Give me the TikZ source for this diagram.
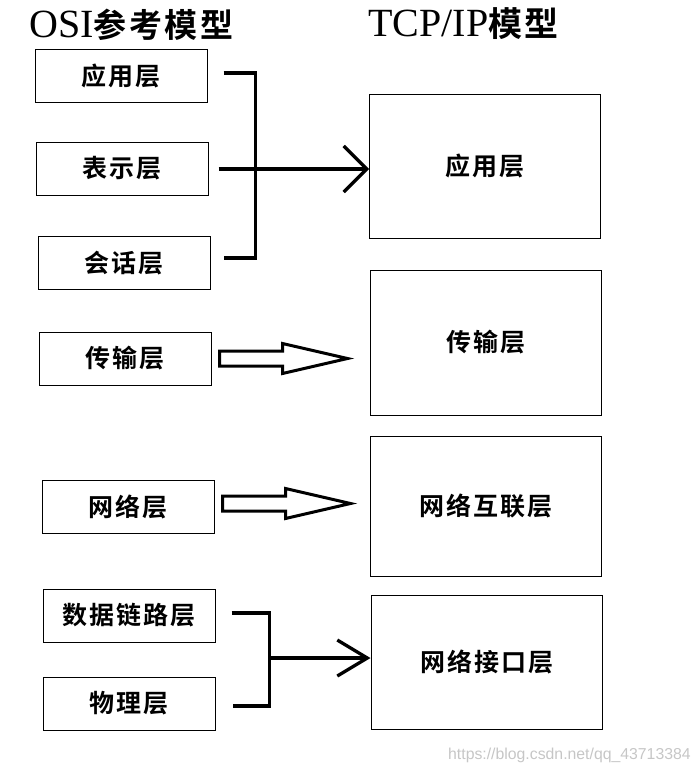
\documentclass[tikz,border=0pt]{standalone}
\usepackage{fontspec}
\setmainfont{Liberation Serif}
\newfontfamily\cjk{Noto Sans CJK SC}[BoldFont={Noto Sans CJK SC Bold}, LetterSpace=8]
\newfontfamily\wmfont{Liberation Sans}
\usetikzlibrary{positioning, calc, arrows.meta}
\tikzset{
    osibox/.style={draw, line width=1pt, minimum width=172pt, minimum height=53pt, inner sep=0pt,
        font=\cjk\bfseries\fontsize{25}{25}\selectfont}, % OSI layers
    tcpbox/.style={draw, line width=1pt, minimum width=231pt, inner sep=0pt,
        font=\cjk\bfseries\fontsize{25}{25}\selectfont}, % TCP/IP layers
    bracket/.style={line width=3.3pt}, % hand drawn brackets
    fat/.style={line width=3pt, line join=miter}, % hollow arrows
    title/.style={anchor=base west, inner sep=0pt},
}
% hollow arrow, #1 = tail point
\newcommand{\fatarrow}[1]{%
    \draw[fat] (#1) ++(0,-7.5) -- ++(63,0) -- ++(0,-7.5) -- ++(65,15)
        -- ++(-65,15) -- ++(0,-7.5) -- ++(-63,0) -- cycle;}

\begin{document}
\begin{tikzpicture}[x=1pt, y=-1pt]
    \useasboundingbox (0,0) rectangle (694,771);

    \node[title] (osititle) at (29,37) {\fontsize{40}{40}\selectfont OSI{\cjk\bfseries\fontsize{33}{33}\selectfont 参考模型}};
    \node[title] (tcptitle) at (368,36) {\fontsize{40}{40}\selectfont TCP/IP{\cjk\bfseries\fontsize{34}{34}\selectfont 模型}};

    % OSI side
    \node[osibox] (osiapp) at (121,75.5) {应用层};
    \node[osibox] (osipre) at (122,168.5) {表示层};
    \node[osibox] (osises) at (124,263) {会话层};
    \node[osibox] (ositra) at (125,358.5) {传输层};
    \node[osibox] (osinet) at (128,506.5) {网络层};
    \node[osibox] (osidl) at (129,615.5) {数据链路层};
    \node[osibox] (osiphy) at (129,703.5) {物理层};

    % TCP/IP side
    \node[tcpbox, minimum height=144pt] (tcpapp) at (485,166) {应用层};
    \node[tcpbox, minimum height=145pt] (tcptra) at (485.5,342.5) {传输层};
    \node[tcpbox, minimum height=140pt] (tcpnet) at (485.5,506) {网络互联层};
    \node[tcpbox, minimum height=134pt] (tcpif) at (486.5,662) {网络接口层};

    % upper bracket
    \coordinate (b1top) at ($(osiapp.east)+(16,-2.5)$);
    \coordinate (b1bot) at ($(osises.east)+(13,-5)$);
    \coordinate (b1in) at ($(osipre.east)+(10,0.5)$);
    \draw[bracket] (b1top) -- ++(32,0) |- (b1bot);
    \draw[bracket, -{Straight Barb[length=23pt, width=46pt]}] (b1in) -- (b1in -| tcpapp.west);

    \fatarrow{$(ositra.east)+(8,0)$}
    \fatarrow{$(osinet.east)+(8,-3)$}

    % lower bracket
    \coordinate (b2top) at ($(osidl.east)+(16,-2.5)$);
    \coordinate (b2bot) at ($(osiphy.east)+(17,2.5)$);
    \coordinate (b2in) at ($(b2top)+(38,45)$);
    \draw[bracket] (b2top) -- ++(38,0) |- (b2bot);
    \draw[bracket, -{Straight Barb[length=30pt, width=36pt]}] (b2in) -- (b2in -| tcpif.west);

    \node[anchor=base west, inner sep=0pt, text=gray!45, font=\wmfont\fontsize{15.8}{16}\selectfont] (wmark) at (448,759) {https://blog.csdn.net/qq\_43713384};
\end{tikzpicture}
\end{document}
